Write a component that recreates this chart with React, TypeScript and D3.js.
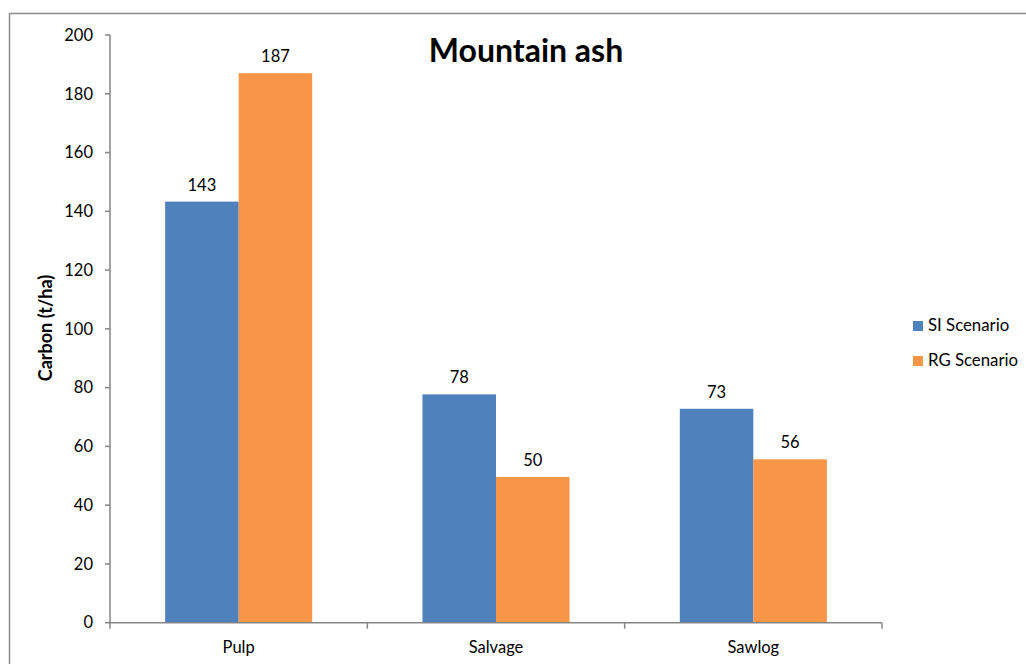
import React from 'react';
import * as d3 from 'd3';

const categories = ['Pulp', 'Salvage', 'Sawlog'];
const seriesNames = ['SI Scenario', 'RG Scenario'];
const siValues = [143.3, 77.7, 72.8];
const rgValues = [187, 49.6, 55.6];
const yTicks = [0, 20, 40, 60, 80, 100, 120, 140, 160, 180, 200];

const colors = ['#4F81BD', '#F79646'];
const axisColor = '#868686';
const font = 'Lato, "Open Sans", sans-serif';

const W = 1026;
const H = 664;
const plot = { left: 110, right: 882, top: 35, bottom: 622.7 };

export default function App() {
  const x = d3.scaleBand<string>().domain(categories).range([plot.left, plot.right]).padding(0);
  const x1 = d3.scaleBand<string>().domain(seriesNames).range([0, x.bandwidth()]).paddingInner(0).paddingOuter(0.75);
  const y = d3.scaleLinear().domain([0, 200]).range([plot.bottom, plot.top]);
  const fmt = d3.format('.0f');
  const values = [siValues, rgValues];

  return (
    <svg width={W} height={H} style={{ position: 'absolute', left: 0, top: 0, background: '#fff' }} fontFamily={font}>
      {/* chart frame */}
      <rect x={9.5} y={13.5} width={W + 20} height={H + 20} fill="#fff" stroke="#8c8c8c" strokeWidth={1.5} />

      {/* bars */}
      {seriesNames.map((s, si) =>
        categories.map((c, ci) => {
          const v = values[si][ci];
          const bx = (x(c) ?? 0) + (x1(s) ?? 0);
          return (
            <g key={s + c}>
              <rect x={bx} y={y(v)} width={x1.bandwidth()} height={plot.bottom - y(v)} fill={colors[si]} />
              <text x={bx + x1.bandwidth() / 2} y={y(v) - 11} textAnchor="middle" fontSize={16.5} fill="#000">
                {fmt(v)}
              </text>
            </g>
          );
        })
      )}

      {/* y axis */}
      <line x1={plot.left} x2={plot.left} y1={plot.top} y2={plot.bottom} stroke={axisColor} strokeWidth={1.5} />
      {yTicks.map(t => (
        <g key={t}>
          <line x1={plot.left - 5} x2={plot.left} y1={y(t)} y2={y(t)} stroke={axisColor} strokeWidth={1.5} />
          <text x={93} y={y(t)} dy="0.35em" textAnchor="end" fontSize={16.5} fill="#000">{t}</text>
        </g>
      ))}
      <text transform={`translate(52,${328}) rotate(-90)`} textAnchor="middle" fontSize={18} fontWeight="bold" fill="#000">
        Carbon (t/ha)
      </text>

      {/* x axis */}
      <line x1={plot.left} x2={plot.right} y1={plot.bottom} y2={plot.bottom} stroke={axisColor} strokeWidth={1.5} />
      {[...categories.map(c => x(c) ?? 0), plot.right].map((px, i) => (
        <line key={i} x1={px} x2={px} y1={plot.bottom} y2={plot.bottom + 6} stroke={axisColor} strokeWidth={1.5} />
      ))}
      {categories.map(c => (
        <text key={c} x={(x(c) ?? 0) + x.bandwidth() / 2} y={653} textAnchor="middle" fontSize={16.5} fill="#000">{c}</text>
      ))}

      {/* title */}
      <text x={526} y={62} textAnchor="middle" fontSize={32} fontWeight="bold" fill="#000">Mountain ash</text>

      {/* legend */}
      {seriesNames.map((s, i) => (
        <g key={s} transform={`translate(913,${321 + i * 35})`}>
          <rect width={10} height={10} fill={colors[i]} />
          <text x={15} y={10} fontSize={16.8} fill="#000">{s}</text>
        </g>
      ))}
    </svg>
  );
}
